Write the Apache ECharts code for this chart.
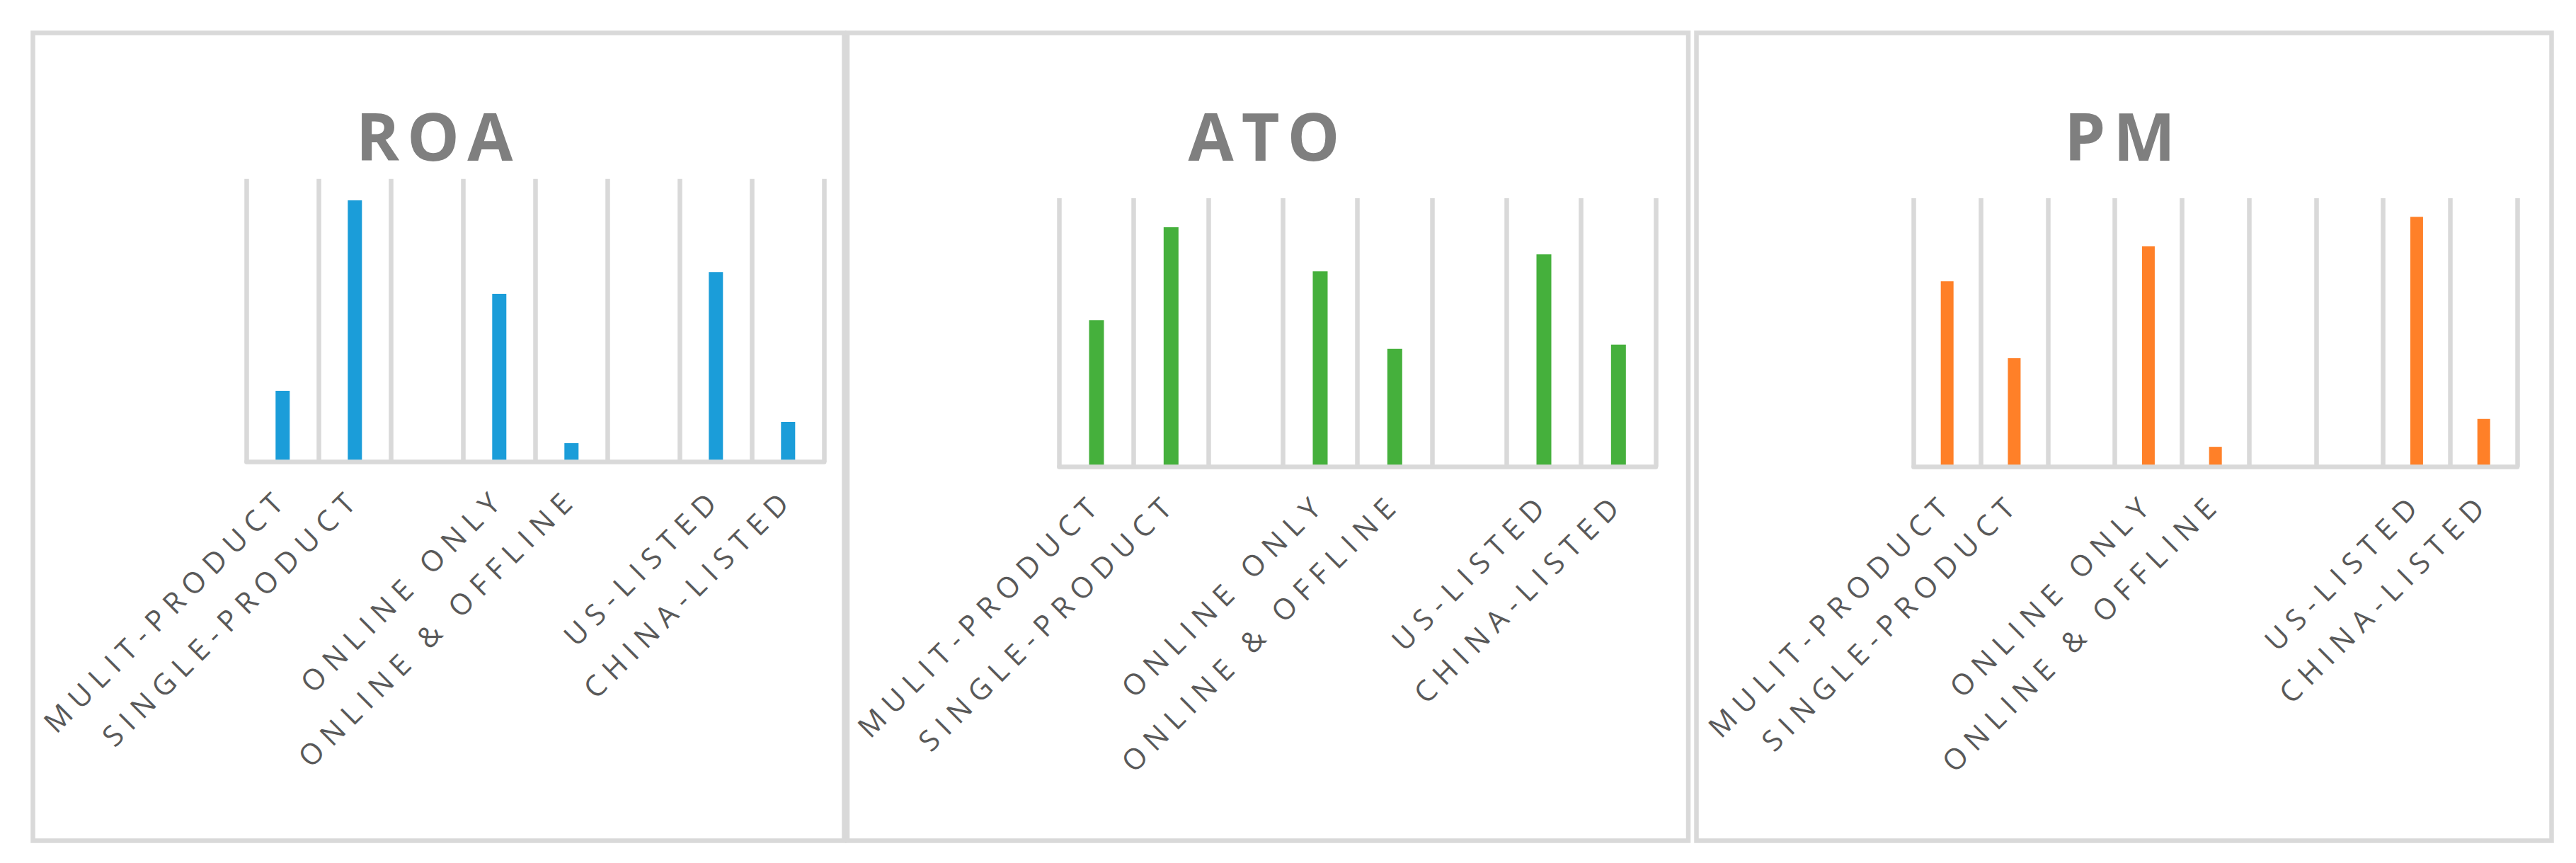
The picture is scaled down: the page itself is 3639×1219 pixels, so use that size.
<!DOCTYPE html>
<html>
<head>
<meta charset="utf-8">
<script src="https://cdn.jsdelivr.net/npm/echarts@6/dist/echarts.min.js"></script>
<style>
  html, body { margin: 0; padding: 0; background: #fff; }
  #chart { width: 3639px; height: 1219px; }
  /* Excel-like spaced caps */
  #chart text { letter-spacing: 11px; }
  #chart text[style*="bold"] { letter-spacing: 11px; }
</style>
</head>
<body>
<div id="chart"></div>
<script>
// 三个小图: ROA / ATO / PM (空字符串 = 分组之间的空白类别)
var roaCategories = ['MULIT-PRODUCT', 'SINGLE-PRODUCT', '', 'ONLINE ONLY', 'ONLINE & OFFLINE', '', 'US-LISTED', 'CHINA-LISTED'];
var roaValues = [0.251, 0.924, null, 0.594, 0.066, null, 0.671, 0.141];

var atoCategories = ['MULIT-PRODUCT', 'SINGLE-PRODUCT', '', 'ONLINE ONLY', 'ONLINE & OFFLINE', '', 'US-LISTED', 'CHINA-LISTED'];
var atoValues = [0.546, 0.892, null, 0.728, 0.439, null, 0.791, 0.455];

var pmCategories = ['MULIT-PRODUCT', 'SINGLE-PRODUCT', '', 'ONLINE ONLY', 'ONLINE & OFFLINE', '', '', 'US-LISTED', 'CHINA-LISTED'];
var pmValues = [0.691, 0.404, null, 0.821, 0.074, null, null, 0.931, 0.178];

var chartTitles = ['ROA', 'ATO', 'PM'];

var lineGrey = '#d9d9d9';

var chart = echarts.init(document.getElementById('chart'), null, { renderer: 'svg' });

function xAxisFor(idx, cats) {
    return {
        type: 'category',
        gridIndex: idx,
        data: cats,
        z: 3,
        axisLine: { show: true, lineStyle: { color: lineGrey, width: 6.5 } },
        axisTick: { show: false },
        splitLine: { show: true, lineStyle: { color: lineGrey, width: 6.5 } },
        axisLabel: {
            interval: 0,
            rotate: 45,
            margin: 43,
            fontFamily: 'Open Sans',
            fontSize: 41,
            color: '#595959'
        }
    };
}

function yAxisFor(idx) {
    return {
        type: 'value',
        gridIndex: idx,
        min: 0,
        max: 1,
        show: false,
        splitLine: { show: false }
    };
}

function titleFor(text, x) {
    return {
        text: text,
        left: x,
        top: 144,
        textAlign: 'center',
        padding: 0,
        textStyle: {
            fontFamily: 'Open Sans',
            fontSize: 93,
            fontWeight: 'bold',
            color: '#7f7f7f'
        }
    };
}

function panelBox(x, w) {
    return {
        type: 'rect',
        silent: true,
        shape: { x: x, y: 46.5, width: w, height: 1141 },
        style: { fill: 'none', stroke: lineGrey, lineWidth: 6.5 }
    };
}

var option = {
    animation: false,
    backgroundColor: '#fff',
    title: [
        titleFor(chartTitles[0], 619),
        titleFor(chartTitles[1], 1791),
        titleFor(chartTitles[2], 3000)
    ],
    graphic: [
        panelBox(46.5, 1146),
        panelBox(1197, 1188),
        panelBox(2396.5, 1208)
    ],
    grid: [
        { left: 348.3, top: 252.7, width: 816, height: 399.6 },
        { left: 1496.3, top: 280, width: 842.7, height: 379.2 },
        { left: 2703.3, top: 280, width: 852.75, height: 379.2 }
    ],
    xAxis: [
        xAxisFor(0, roaCategories),
        xAxisFor(1, atoCategories),
        xAxisFor(2, pmCategories)
    ],
    yAxis: [yAxisFor(0), yAxisFor(1), yAxisFor(2)],
    series: [
        {
            name: 'ROA',
            type: 'bar',
            xAxisIndex: 0,
            yAxisIndex: 0,
            barWidth: 20,
            itemStyle: { color: '#1b9dd9' },
            data: roaValues
        },
        {
            name: 'ATO',
            type: 'bar',
            xAxisIndex: 1,
            yAxisIndex: 1,
            barWidth: 21,
            itemStyle: { color: '#45b03c' },
            data: atoValues
        },
        {
            name: 'PM',
            type: 'bar',
            xAxisIndex: 2,
            yAxisIndex: 2,
            barWidth: 18,
            itemStyle: { color: '#ff8028' },
            data: pmValues
        }
    ]
};
chart.setOption(option);
</script>
</body>
</html>
